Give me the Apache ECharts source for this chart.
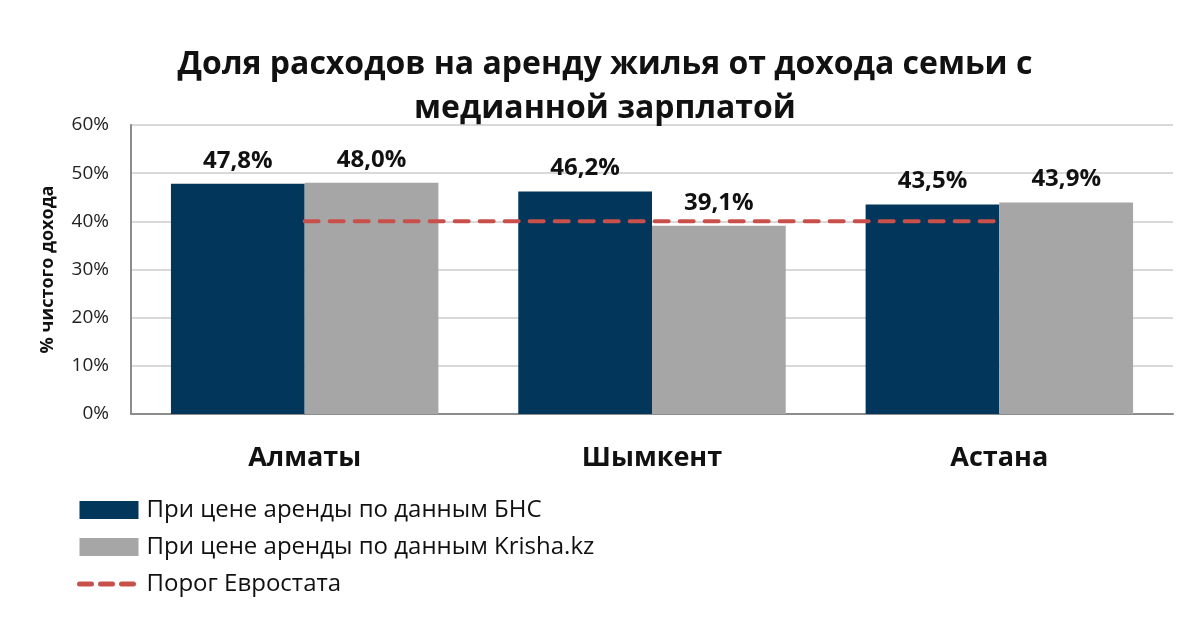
<!DOCTYPE html>
<html>
<head>
<meta charset="utf-8">
<script src="https://cdn.jsdelivr.net/npm/echarts@6/dist/echarts.min.js"></script>
<style>
  html, body { margin: 0; padding: 0; background: #fff; }
  #chart { width: 1200px; height: 621px; }
</style>
</head>
<body>
<div id="chart"></div>
<script>
const cities = ['Алматы', 'Шымкент', 'Астана'];
const bnsShare = [47.8, 46.2, 43.5];
const krishaShare = [48.0, 39.1, 43.9];
const eurostatLimit = [40, 40, 40];
const yTicks = [0, 10, 20, 30, 40, 50, 60];

const seriesNames = [
    'При цене аренды по данным БНС',
    'При цене аренды по данным Krisha.kz',
    'Порог Евростата'
];

let font = '"Open Sans", "Noto Sans", sans-serif';
let myChart = echarts.init(document.getElementById('chart'));

let valueLabel = {
    show: true,
    position: 'top',
    distance: 11,
    fontFamily: font,
    fontSize: 24,
    fontWeight: 'bold',
    color: '#111',
    formatter: function (p) {
        return p.value.toFixed(1).replace('.', ',') + '%';
    }
};

let option = {
    textStyle: { fontFamily: font },
    title: {
        text: 'Доля расходов на аренду жилья от дохода семьи с\nмедианной зарплатой',
        left: 600,
        textAlign: 'center',
        top: 38,
        textStyle: {
            fontFamily: font,
            fontSize: 32,
            fontWeight: 'bold',
            color: '#111',
            lineHeight: 44
        }
    },
    legend: {
        orient: 'vertical',
        left: 72,
        top: 493,
        itemGap: 13,
        itemWidth: 59,
        itemHeight: 18,
        data: [
            { name: seriesNames[0], icon: 'rect' },
            { name: seriesNames[1], icon: 'rect' },
            {
                name: seriesNames[2],
                itemStyle: { opacity: 0 },
                lineStyle: { width: 5, type: [12, 9], cap: 'round' }
            }
        ],
        textStyle: {
            fontFamily: font,
            fontSize: 24,
            color: '#111',
            padding: [0, 0, 0, 3]
        }
    },
    grid: {
        left: 131,
        right: 27,
        top: 125,
        height: 289,
        containLabel: false
    },
    xAxis: {
        type: 'category',
        data: cities,
        axisTick: { show: false },
        axisLine: { lineStyle: { color: '#8c8c8c', width: 2 } },
        axisLabel: {
            margin: 31,
            fontFamily: font,
            fontSize: 27,
            fontWeight: 'bold',
            color: '#111'
        }
    },
    yAxis: {
        type: 'value',
        min: yTicks[0],
        max: yTicks[yTicks.length - 1],
        interval: 10,
        name: '% чистого дохода',
        nameLocation: 'middle',
        nameGap: 74,
        nameRotate: 90,
        nameTextStyle: {
            fontFamily: font,
            fontSize: 18,
            fontWeight: 'bold',
            color: '#111'
        },
        axisLine: { show: true, lineStyle: { color: '#8c8c8c', width: 2 } },
        axisTick: { show: false },
        axisLabel: {
            margin: 22,
            fontFamily: font,
            fontSize: 19,
            color: '#222',
            formatter: '{value}%'
        },
        splitLine: { lineStyle: { color: '#d9d9d9', width: 2 } }
    },
    series: [
        {
            name: seriesNames[0],
            type: 'bar',
            data: bnsShare,
            barGap: '0%',
            barCategoryGap: '23%',
            itemStyle: { color: '#03365b' },
            label: valueLabel,
            z: 2
        },
        {
            name: seriesNames[1],
            type: 'bar',
            data: krishaShare,
            itemStyle: { color: '#a6a6a6' },
            label: valueLabel,
            z: 2
        },
        {
            name: seriesNames[2],
            type: 'line',
            data: eurostatLimit,
            symbol: 'none',
            lineStyle: {
                color: '#c9504a',
                width: 4,
                type: [14, 11],
                cap: 'round'
            },
            itemStyle: { color: '#c9504a' },
            z: 5
        }
    ]
};
myChart.setOption(option);
</script>
</body>
</html>
